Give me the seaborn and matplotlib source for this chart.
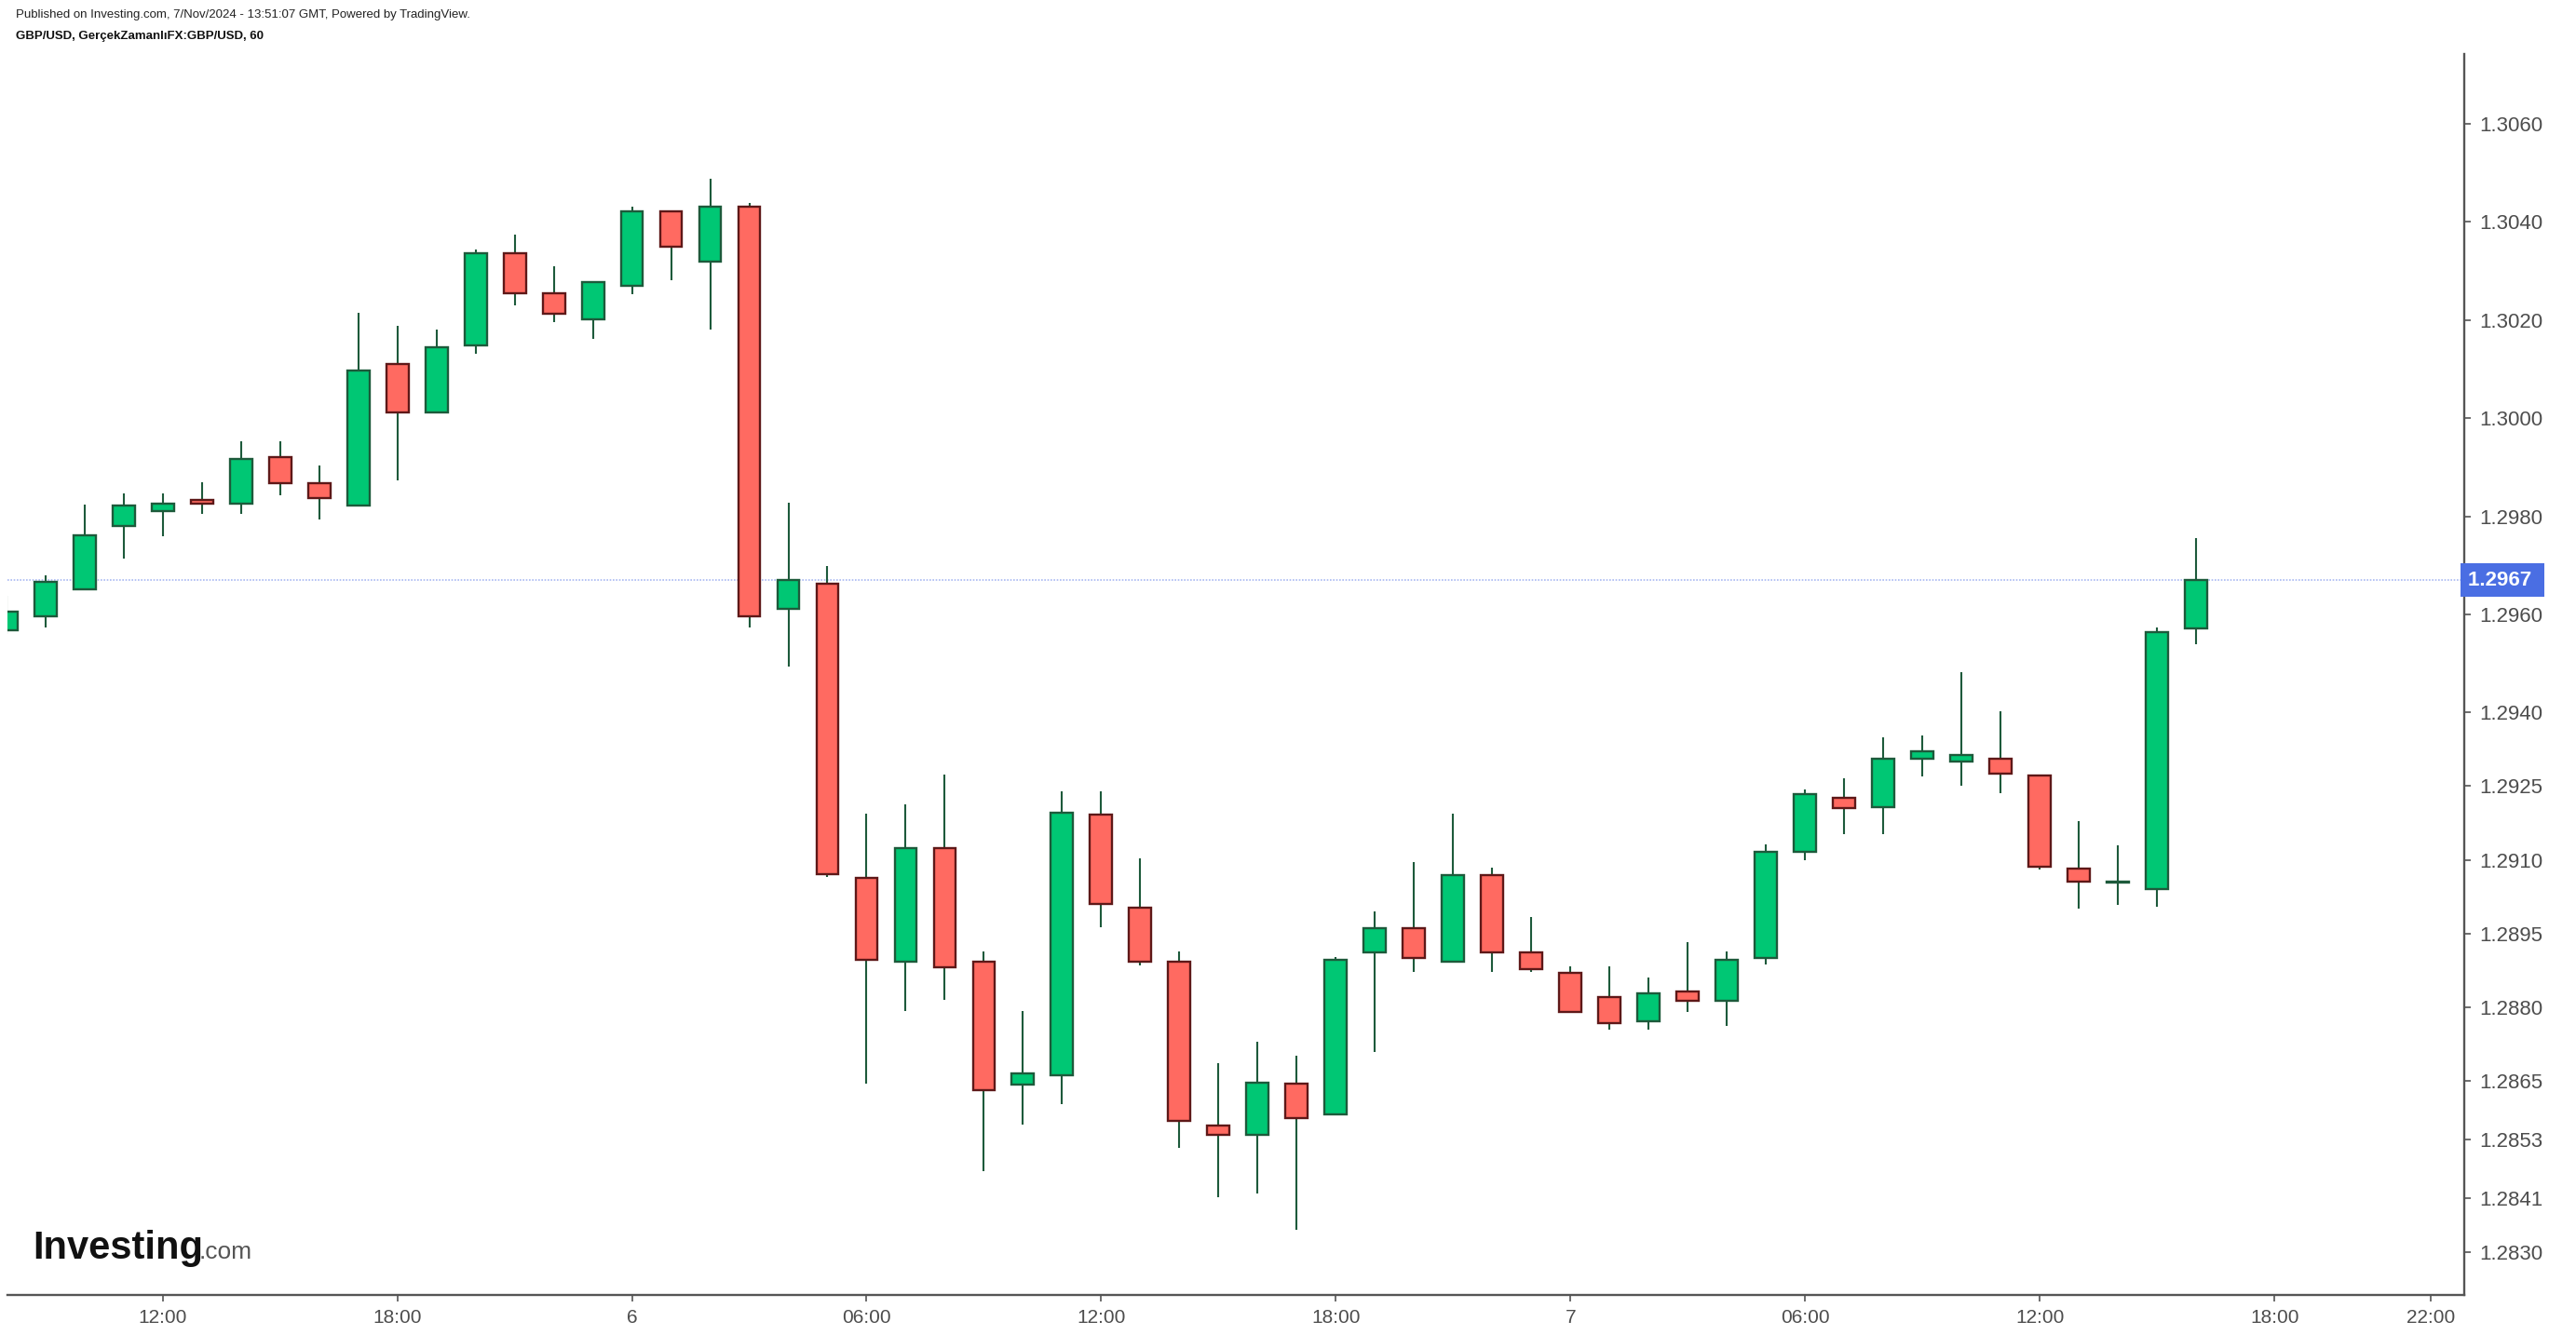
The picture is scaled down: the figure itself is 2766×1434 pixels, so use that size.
import numpy as np
import matplotlib
matplotlib.use('Agg')
import matplotlib.pyplot as plt
import matplotlib.transforms as mtransforms
import seaborn as sns

# hourly GBP/USD candles, Nov 5 08:00 -> Nov 7 16:00
opens = [1.29567, 1.29597, 1.29651, 1.29780, 1.29810, 1.29833, 1.29826, 1.29921,
         1.29868, 1.29822, 1.30111, 1.30011, 1.30148, 1.30335, 1.30255, 1.30201,
         1.30269, 1.30422, 1.30318, 1.30430, 1.29612, 1.29663, 1.29063, 1.28892,
         1.29124, 1.28892, 1.28642, 1.28660, 1.29192, 1.29003, 1.28893, 1.28558,
         1.28540, 1.28643, 1.28581, 1.28911, 1.28961, 1.28892, 1.29068, 1.28911,
         1.28870, 1.28821, 1.28771, 1.28832, 1.28813, 1.28899, 1.29116, 1.29226,
         1.29207, 1.29305, 1.29301, 1.29306, 1.29272, 1.29082, 1.29054, 1.29040,
         1.29571]
highs = [1.29637, 1.29679, 1.29824, 1.29846, 1.29846, 1.29869, 1.29952, 1.29952,
         1.29903, 1.30214, 1.30188, 1.30180, 1.30343, 1.30374, 1.30309, 1.30278,
         1.30430, 1.30422, 1.30488, 1.30438, 1.29827, 1.29698, 1.29193, 1.29212,
         1.29273, 1.28913, 1.28791, 1.29239, 1.29239, 1.29103, 1.28913, 1.28686,
         1.28730, 1.28700, 1.28901, 1.28994, 1.29095, 1.29193, 1.29084, 1.28984,
         1.28882, 1.28882, 1.28860, 1.28932, 1.28913, 1.29132, 1.29243, 1.29266,
         1.29349, 1.29353, 1.29482, 1.29402, 1.29272, 1.29179, 1.29129, 1.29573,
         1.29755]
lows = [1.29560, 1.29574, 1.29650, 1.29714, 1.29760, 1.29805, 1.29805, 1.29843,
        1.29794, 1.29822, 1.29873, 1.30011, 1.30131, 1.30230, 1.30196, 1.30162,
        1.30253, 1.30280, 1.30181, 1.29574, 1.29494, 1.29065, 1.28644, 1.28792,
        1.28815, 1.28466, 1.28561, 1.28602, 1.28963, 1.28884, 1.28512, 1.28412,
        1.28420, 1.28345, 1.28581, 1.28709, 1.28872, 1.28892, 1.28872, 1.28872,
        1.28789, 1.28754, 1.28754, 1.28789, 1.28762, 1.28887, 1.29100, 1.29153,
        1.29153, 1.29270, 1.29251, 1.29236, 1.29081, 1.29001, 1.29008, 1.29005,
        1.29540]
closes = [1.29605, 1.29667, 1.29762, 1.29822, 1.29826, 1.29826, 1.29917, 1.29867,
          1.29837, 1.30096, 1.30011, 1.30145, 1.30335, 1.30254, 1.30212, 1.30278,
          1.30422, 1.30349, 1.30430, 1.29597, 1.29670, 1.29071, 1.28896, 1.29124,
          1.28881, 1.28630, 1.28665, 1.29196, 1.29010, 1.28892, 1.28567, 1.28540,
          1.28645, 1.28574, 1.28897, 1.28961, 1.28900, 1.29068, 1.28911, 1.28877,
          1.28789, 1.28767, 1.28828, 1.28813, 1.28896, 1.29116, 1.29234, 1.29206,
          1.29306, 1.29321, 1.29314, 1.29275, 1.29085, 1.29055, 1.29054, 1.29564,
          1.29670]

last_price = 1.2967

x_tick_pos = [4, 10, 16, 22, 28, 34, 40, 46, 52, 58, 62]
x_tick_labels = ['12:00', '18:00', '6', '06:00', '12:00', '18:00', '7',
                 '06:00', '12:00', '18:00', '22:00']
y_ticks = [1.3060, 1.3040, 1.3020, 1.3000, 1.2980, 1.2960, 1.2940, 1.2925,
           1.2910, 1.2895, 1.2880, 1.2865, 1.2853, 1.2841, 1.2830]

sns.set_theme(style='white')
plt.rcParams['font.family'] = ['Liberation Sans', 'DejaVu Sans']

up_fill, up_edge = '#00c774', '#1d5a3b'
dn_fill, dn_edge = '#ff6a61', '#5e1818'
wick_col = '#1d5a3b'
axis_col = '#555555'

o = np.array(opens)
c = np.array(closes)
x = np.arange(len(o))
up = c >= o

fig = plt.figure(figsize=(27.66, 14.34), dpi=100)
ax = fig.add_axes([0.003, 0.0303, 0.9536, 0.9293])

# wicks
ax.vlines(x, lows, highs, color=wick_col, linewidth=1.5, zorder=2)

# bodies
body_h = np.maximum(np.abs(c - o), 0.00001)
body_b = np.minimum(o, c)
ax.bar(x[up], body_h[up], bottom=body_b[up], width=0.57,
       color=up_fill, edgecolor=up_edge, linewidth=1.7, zorder=3)
ax.bar(x[~up], body_h[~up], bottom=body_b[~up], width=0.57,
       color=dn_fill, edgecolor=dn_edge, linewidth=1.7, zorder=3)

# last price line
ax.axhline(last_price, color='#a9b9f2', linewidth=1.2, linestyle=(0, (1, 1)), zorder=1)

ax.set_xlim(0.04, 62.85)
ax.set_ylim(1.28214, 1.30742)

sns.despine(ax=ax, left=True, top=True, right=False, bottom=False)
for side in ['right', 'bottom']:
    ax.spines[side].set_color(axis_col)
    ax.spines[side].set_linewidth(1.7)

ax.yaxis.tick_right()
ax.set_yticks(y_ticks)
ax.set_yticklabels(['{:.4f}'.format(v) for v in y_ticks])
ax.set_xticks(x_tick_pos)
ax.set_xticklabels(x_tick_labels)
ax.tick_params(axis='y', which='both', right=True, left=False, length=5, width=1.2,
               color=axis_col, labelcolor='#4d4d4d', labelsize=16, pad=7)
ax.tick_params(axis='x', which='both', bottom=True, length=5, width=1.2,
               color=axis_col, labelcolor='#4d4d4d', labelsize=15, pad=6)
for lbl in ax.get_xticklabels():
    lbl.set_family(['Liberation Sans Narrow', 'Liberation Sans'])
ax.grid(False)

# current price badge
trans = mtransforms.blended_transform_factory(ax.transAxes, ax.transData)
ax.text(1.0015, last_price, '1.2967 ', transform=trans, ha='left', va='center',
        fontsize=16, color='white', fontweight='bold',
        bbox=dict(boxstyle='square,pad=0.35', fc='#4a6ee3', ec='none'), zorder=5)

# header
fig.text(0.0062, 1 - 16 / 1434, 'Published on Investing.com, 7/Nov/2024 - 13:51:07 GMT, Powered by TradingView.',
         fontsize=9.5, color='#222222', va='center', family=['Liberation Sans Narrow', 'Liberation Sans'])
fig.text(0.0062, 1 - 39 / 1434, 'GBP/USD, GerçekZamanlıFX:GBP/USD, 60',
         fontsize=9.5, color='#111111', va='center', fontweight='bold',
         family=['Liberation Sans Narrow', 'Liberation Sans'])

# watermark logo
fig.text(35 / 2766, 1 - 1352 / 1434, 'Investing', fontsize=30, fontweight='bold',
         color='#111111', va='baseline', family=['Liberation Sans Narrow', 'Liberation Sans'])
fig.text(214 / 2766, 1 - 1352 / 1434, '.com', fontsize=19, color='#555555',
         va='baseline', family=['Liberation Sans Narrow', 'Liberation Sans'])

fig.savefig('out.png', dpi=100)
